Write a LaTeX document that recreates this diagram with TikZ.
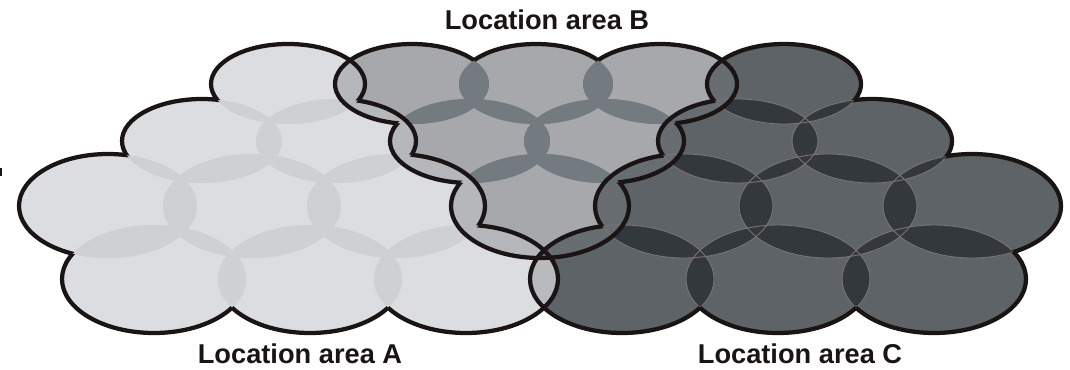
\documentclass[tikz,border=0pt]{standalone}
\usepackage{fontspec}
\setmainfont{Liberation Sans}
\definecolor{cA}{HTML}{DCDDE1}
\definecolor{cAl}{HTML}{CFD0D4}
\definecolor{cB}{HTML}{A6A8AC}
\definecolor{cBl}{HTML}{737A80}
\definecolor{cC}{HTML}{5E6368}
\definecolor{cCl}{HTML}{33383D}
\definecolor{cAB}{HTML}{B5B7BA}
\definecolor{cBC}{HTML}{686D72}
\definecolor{cAC}{HTML}{B8BABD}
\definecolor{cCedge}{HTML}{7D7575}
\definecolor{ink}{HTML}{1A1414}
\def\pxu{0.02cm}
\def\Alist{288/285/77/40, 202/228/80/42, 336/228/80/42, 108/163/89/52, 252/163/89/52, 396/163/89/52, 154/90/92/54, 310/90/92/54, 466/90/92/54}
\def\Blist{412/285/77/40, 536/285/77/40, 660/285/77/40, 470/228/80/42, 604/228/80/42, 540/163/89/52}
\def\Clist{784/285/77/40, 738/228/80/42, 872/228/80/42, 684/163/89/52, 828/163/89/52, 972/163/89/52, 622/90/92/54, 778/90/92/54, 934/90/92/54}
\tikzset{
  outl/.style={draw=ink, line width=0.085cm},
  lbl/.style={font=\bfseries\fontsize{15.5}{18}\selectfont, text=ink, inner sep=0pt}
}
\newcommand\cel[4]{(#1,#2) ellipse [x radius={#3*\pxu}, y radius={#4*\pxu}]}
% lenses inside one area
\newcommand\lenses[2]{%
  \foreach \x/\y/\a/\b [count=\i] in #1 {
    \begin{scope}
      \clip \cel{\x}{\y}{\a}{\b};
      \foreach \xx/\yy/\aa/\bb [count=\j] in #1 {
        \ifnum\i=\j\relax\else \fill[#2] \cel{\xx}{\yy}{\aa}{\bb};\fi
      }
    \end{scope}
  }}
% outline of one area (boundary of the union of its cells)
\newcommand\areaoutline[1]{%
  \foreach \x/\y/\a/\b [count=\i] in #1 {
    \begin{scope}[even odd rule]
      \foreach \xx/\yy/\aa/\bb [count=\j] in #1 {
        \ifnum\i=\j\relax\else
          \clip (-20,-20) -- (-20,400) -- (1100,400) -- (1100,-20) -- cycle \cel{\xx}{\yy}{\aa}{\bb};
        \fi
      }
      \draw[outl] \cel{\x}{\y}{\a}{\b};
    \end{scope}
  }}
\begin{document}
\begin{tikzpicture}[x=0.02cm,y=0.02cm]
\useasboundingbox (0,0) rectangle (1070,369);
% base fills
\foreach \x/\y/\a/\b in \Alist {\fill[cA] \cel{\x}{\y}{\a}{\b};}
\foreach \x/\y/\a/\b in \Blist {\fill[cB] \cel{\x}{\y}{\a}{\b};}
\foreach \x/\y/\a/\b in \Clist {\fill[cC] \cel{\x}{\y}{\a}{\b};}
\lenses{\Alist}{cAl}
\lenses{\Blist}{cBl}
\lenses{\Clist}{cCl}
% lenses between areas
\foreach \x/\y/\a/\b in \Alist {
  \begin{scope}
    \clip \cel{\x}{\y}{\a}{\b};
    \foreach \xx/\yy/\aa/\bb in \Blist {\fill[cAB] \cel{\xx}{\yy}{\aa}{\bb};}
    \foreach \xx/\yy/\aa/\bb in \Clist {\fill[cAC] \cel{\xx}{\yy}{\aa}{\bb};}
  \end{scope}
}
\foreach \x/\y/\a/\b in \Blist {
  \begin{scope}
    \clip \cel{\x}{\y}{\a}{\b};
    \foreach \xx/\yy/\aa/\bb in \Clist {\fill[cBC] \cel{\xx}{\yy}{\aa}{\bb};}
  \end{scope}
}
% thin edges of the dark area's lenses
\foreach \x/\y/\a/\b in \Clist {\draw[cCedge, line width=0.5pt] \cel{\x}{\y}{\a}{\b};}
\areaoutline{\Alist}
\areaoutline{\Blist}
\areaoutline{\Clist}
\fill[ink] (0,193) rectangle (2,201);
\node[lbl] (labB) at (547,349) {Location area B};
\node[lbl] (labA) at (300,15) {Location area A};
\node[lbl] (labC) at (800,15) {Location area C};
\end{tikzpicture}
\end{document}
